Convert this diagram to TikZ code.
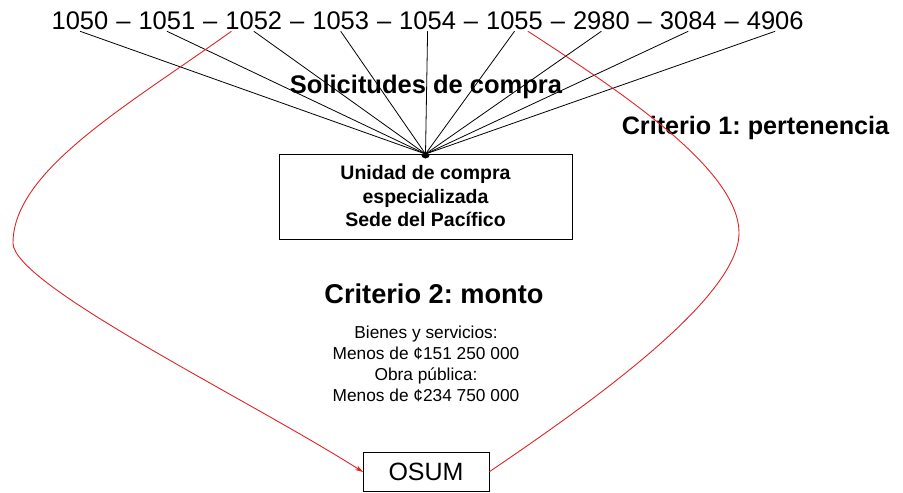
\documentclass[tikz,border=0pt]{standalone}
\usepackage{fontspec}
\setmainfont{Liberation Sans}
\usetikzlibrary{arrows.meta}
\definecolor{critred}{RGB}{225,35,35}
\frenchspacing
\begin{document}
\begin{tikzpicture}[x=1pt,y=-1pt,inner sep=0pt,outer sep=0pt,
num/.style={font=\fontsize{25.5}{30}\selectfont,anchor=base,outer sep=2pt},
heading/.style={font=\bfseries\fontsize{25.5}{30}\selectfont},
sysblock/.style={draw,rectangle,line width=1pt,align=center,minimum width=293pt,minimum height=85pt,
  font=\bfseries\fontsize{19.5}{23.5}\selectfont},
fanline/.style={line width=0.8pt},
critline/.style={critred,line width=0.9pt}]
\useasboundingbox (0,0) rectangle (903,493);
\foreach \num [count=\i] in {1050,1051,1052,1053,1054,1055,2980,3084,4906}
  \node[num] (n\i) at ({80+86.9*(\i-1)},29) {\num};
\foreach \i in {1,...,8}
  \node[num] (d\i) at ({123.4+86.9*(\i-1)},29) {–};
\node[sysblock] (unidad) at (425.5,196.5) {Unidad de compra\\especializada\\Sede del Pacífico};
\coordinate (hub) at (unidad.north);
\foreach \i in {1,...,9}
  \draw[fanline] (n\i.south) -- (hub);
\fill ([xshift=-4.5pt]hub) arc[start angle=180,end angle=360,radius=4.5pt] -- cycle;
\node[heading] (solicitudes) at (426,87) {Solicitudes de compra};
\node[heading,font=\bfseries\fontsize{25.2}{30}\selectfont] (criterio1) at (755.5,128) {Criterio 1: pertenencia};
\node[heading,font=\bfseries\fontsize{27.2}{34}\selectfont] (criterio2) at (434,294) {Criterio 2: monto};
\node[align=center,font=\fontsize{17.3}{21}\selectfont] (montos) at (426,364)
  {Bienes y servicios:\\Menos de ¢151 250 000\\Obra pública:\\Menos de ¢234 750 000};
\node[draw,line width=1pt,minimum width=126pt,minimum height=39pt,font=\fontsize{25}{30}\selectfont] (osum) at (426,472) {OSUM};
\draw[critline,-{Stealth[length=8pt,width=5pt]}] ([xshift=8pt]n3.south west)
  .. controls (130,104) and (13,170) .. (13,243)
  .. controls (13,285) and (250,400) .. (osum.west);
\draw[critline] ([xshift=-17pt]n6.south east)
  .. controls (623,93) and (739,170) .. (739,233)
  .. controls (739,300) and (580,410) .. (osum.east);
\end{tikzpicture}
\end{document}
